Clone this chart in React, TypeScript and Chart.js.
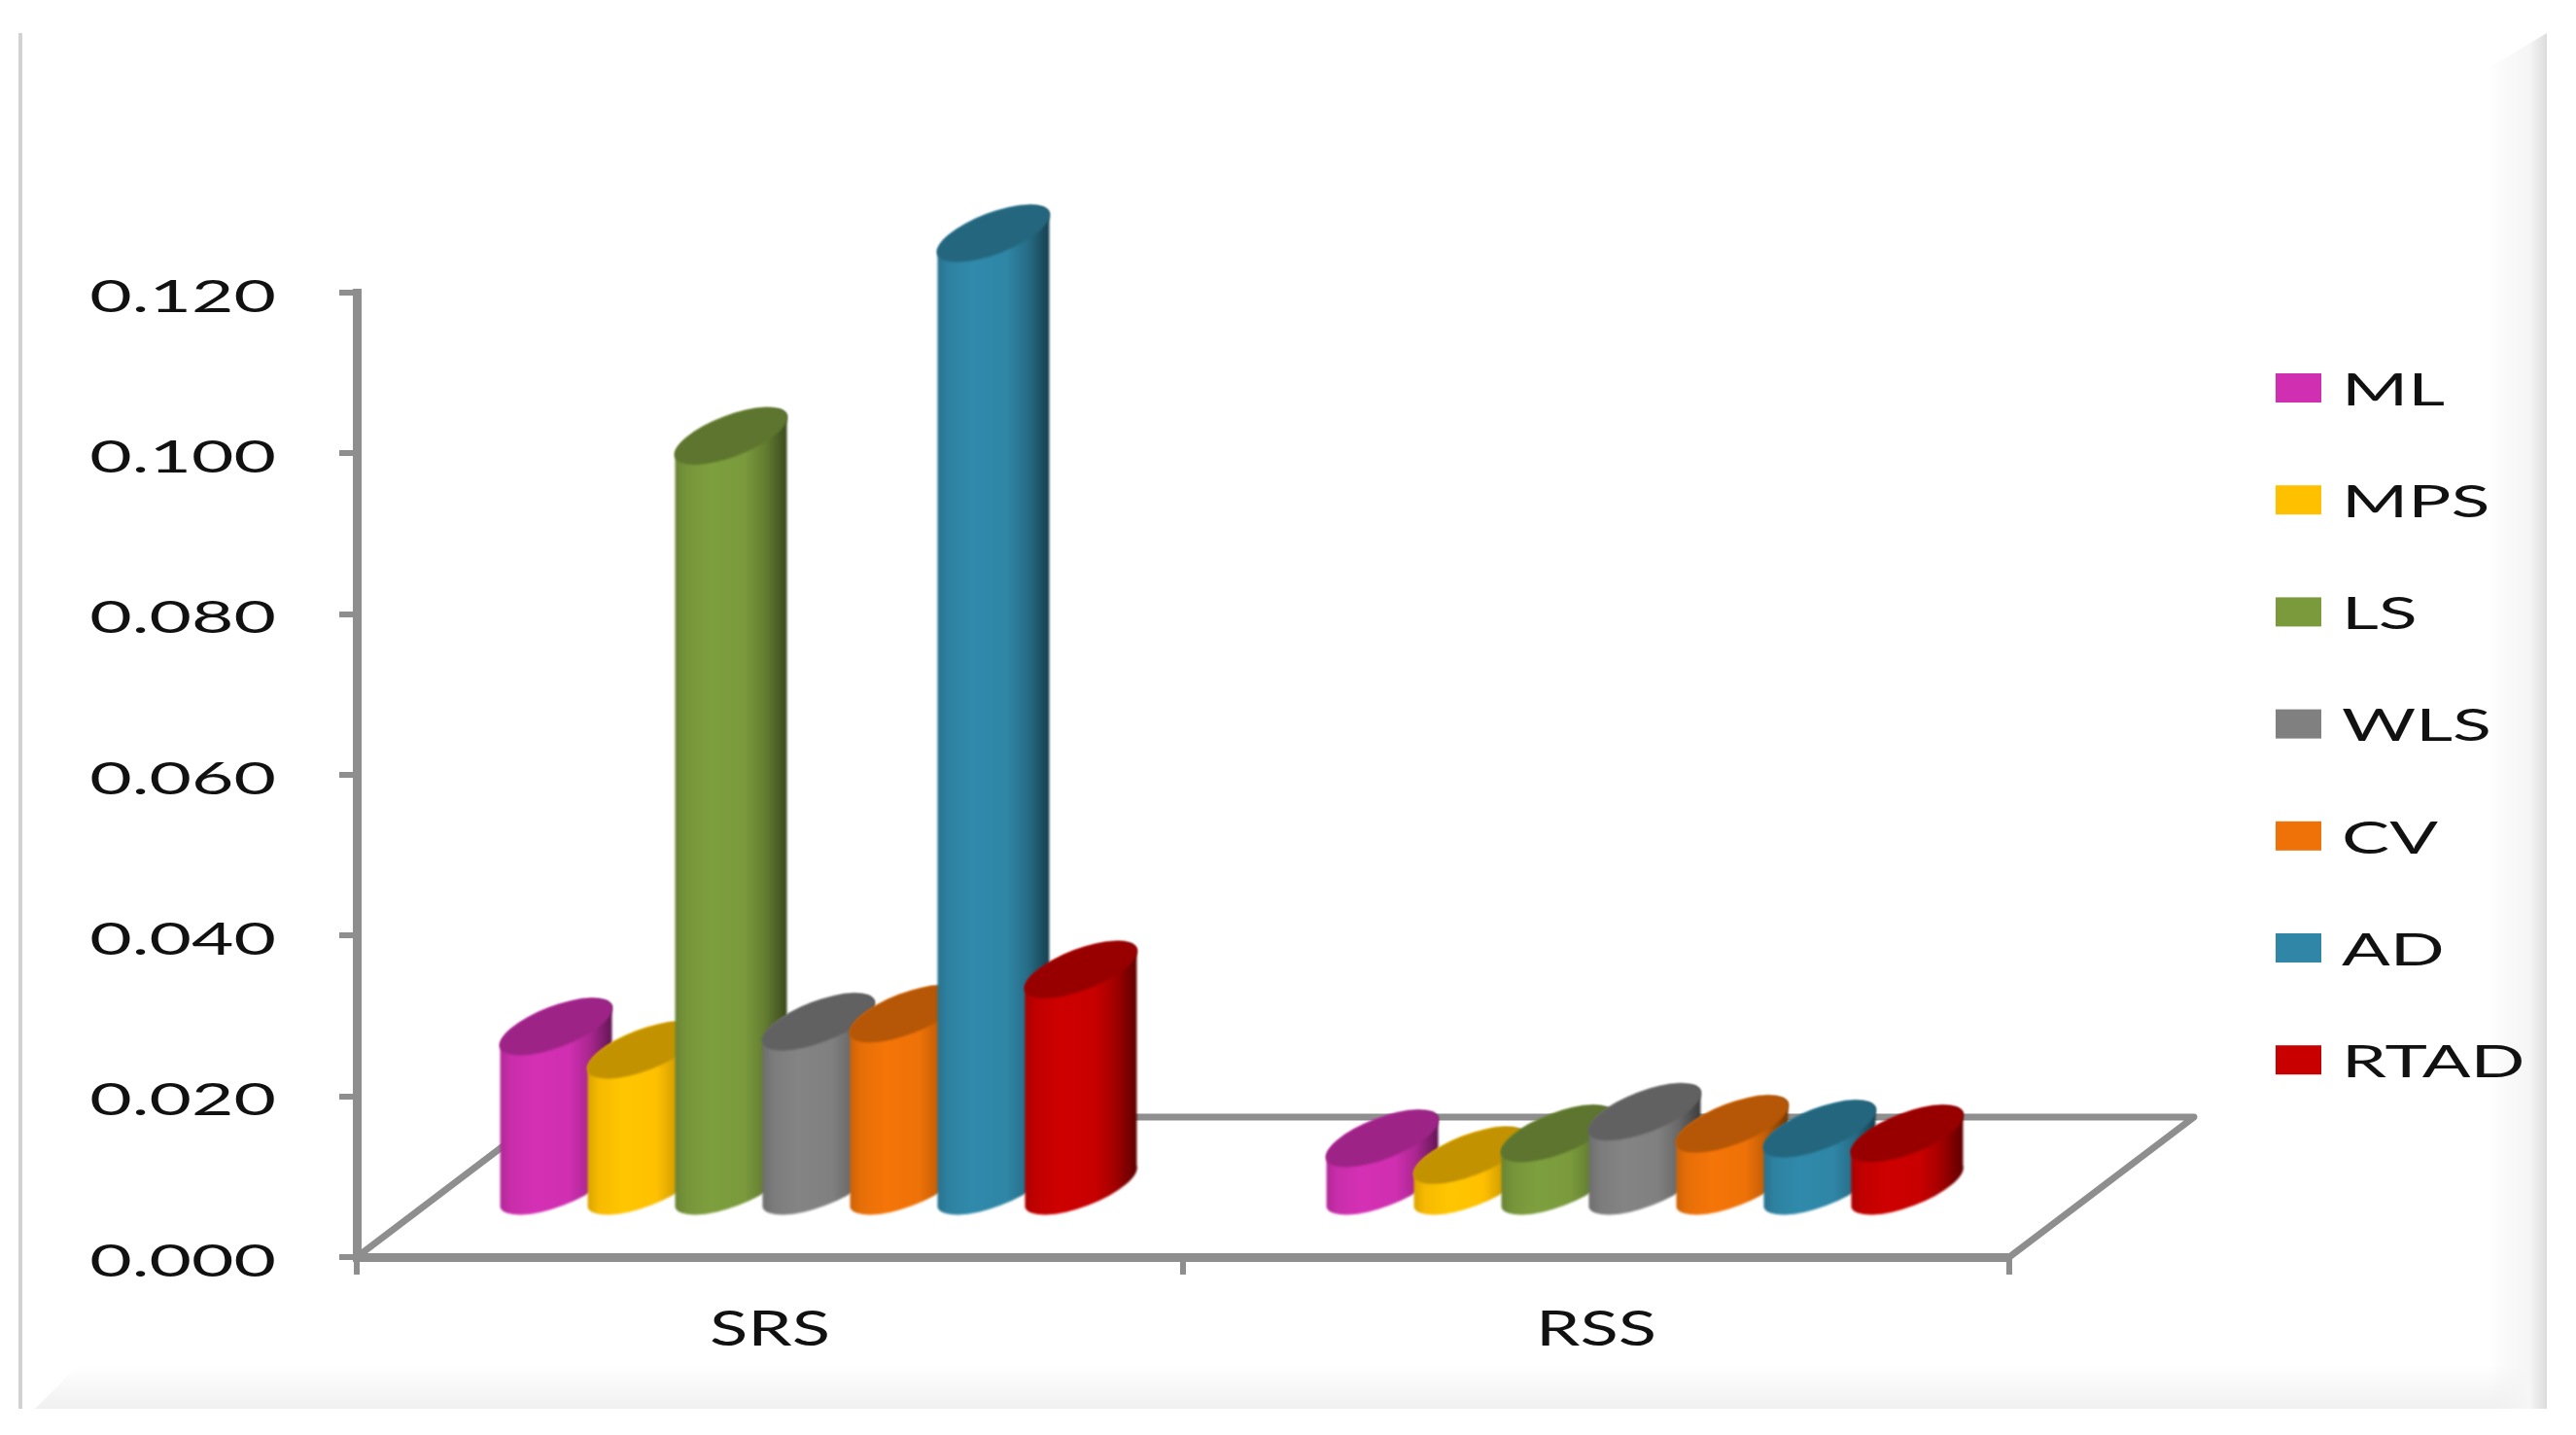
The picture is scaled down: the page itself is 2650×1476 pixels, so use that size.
import React, { useEffect, useRef } from "react";
import { Chart, registerables, BarController, BarElement } from "chart.js";

const categories = ["SRS", "RSS"];
const yMax = 0.12;
const yStep = 0.02;
const seriesNames = ["ML", "MPS", "LS", "WLS", "CV", "AD", "RTAD"];
const seriesColors = ["#cf2fb0", "#ffc000", "#7a9a3c", "#808080", "#ee7208", "#2f86a6", "#c80000"];
const mlValues = [0.0202, 0.0063];
const mpsValues = [0.0173, 0.0042];
const lsValues = [0.0937, 0.0069];
const wlsValues = [0.0208, 0.0096];
const cvValues = [0.0218, 0.0081];
const adValues = [0.1189, 0.0075];
const rtadValues = [0.0273, 0.0069];
const seriesValues = [mlValues, mpsValues, lsValues, wlsValues, cvValues, adValues, rtadValues];

const GREY = "#8e8e8e";
const INK = "#111111";
const FONT = "Lato";

function shade(hex: string, k: number) {
  const n = parseInt(hex.slice(1), 16);
  const c = [(n >> 16) & 255, (n >> 8) & 255, n & 255].map((v) => Math.round(v * k));
  return `rgb(${c[0]},${c[1]},${c[2]})`;
}

function stretchedText(ctx: any, text: string, x: number, y: number, sx: number, size: number, align: string) {
  ctx.save();
  ctx.translate(x, y);
  ctx.scale(sx, 1);
  ctx.font = `${size}px ${FONT}`;
  ctx.fillStyle = INK;
  ctx.textAlign = align;
  ctx.textBaseline = "middle";
  ctx.fillText(text, 0, 0);
  ctx.restore();
}

// Cylinder in the look of a 3-D office chart: it stands on the floor behind the axis front edge.
class CylinderElement extends BarElement {
  static id = "cylinder";
  draw(ctx: any) {
    const { x, y, base, width } = (this as any).getProps(["x", "y", "base", "width"]);
    const color = (this as any).options.backgroundColor as string;
    const rise = width * 0.38;
    const a = Math.hypot(width, rise) / 2;
    const b = 21;
    const theta = -Math.atan2(rise, width);
    const cx = x + 50;
    const floorLift = 48;
    const baseY = base - floorLift - rise / 2;
    const topY = y - floorLift - rise / 2;
    const left = cx - width / 2;
    const grad = ctx.createLinearGradient(left, 0, left + width, 0);
    grad.addColorStop(0, shade(color, 0.86));
    grad.addColorStop(0.1, shade(color, 0.97));
    grad.addColorStop(0.32, shade(color, 1.03));
    grad.addColorStop(0.62, color);
    grad.addColorStop(0.8, shade(color, 0.82));
    grad.addColorStop(1, shade(color, 0.48));
    ctx.save();
    ctx.filter = "blur(1.2px)";
    ctx.beginPath();
    ctx.ellipse(cx, topY, a, b, theta, Math.PI, 2 * Math.PI);
    ctx.ellipse(cx, baseY, a, b, theta, 0, Math.PI);
    ctx.closePath();
    ctx.fillStyle = grad;
    ctx.fill();
    ctx.beginPath();
    ctx.ellipse(cx, topY, a, b, theta, 0, 2 * Math.PI);
    ctx.fillStyle = shade(color, 0.76);
    ctx.fill();
    ctx.restore();
  }
}

class CylinderController extends BarController {
  static id = "cylinder";
  static defaults = { dataElementType: "cylinder" };
}

Chart.register(...registerables, CylinderElement as any, CylinderController as any);

const framePlugin = {
  id: "frame",
  beforeDraw(chart: any) {
    const { ctx, width } = chart;
    ctx.save();
    ctx.fillStyle = "#ffffff";
    ctx.fillRect(0, 0, width, chart.height);
    // bottom soft band
    let g = ctx.createLinearGradient(0, 1405, 0, 1449);
    g.addColorStop(0, "rgba(240,240,240,0)");
    g.addColorStop(1, "#f0f0f0");
    ctx.fillStyle = g;
    ctx.beginPath();
    ctx.moveTo(36, 1449);
    ctx.lineTo(80, 1405);
    ctx.lineTo(2620, 1405);
    ctx.lineTo(2620, 1449);
    ctx.closePath();
    ctx.fill();
    // right soft band
    g = ctx.createLinearGradient(2560, 0, 2620, 0);
    g.addColorStop(0, "rgba(240,240,240,0)");
    g.addColorStop(0.7, "#f6f6f6");
    g.addColorStop(1, "#dcdcdc");
    ctx.fillStyle = g;
    ctx.beginPath();
    ctx.moveTo(2620, 34);
    ctx.lineTo(2560, 70);
    ctx.lineTo(2560, 1449);
    ctx.lineTo(2620, 1449);
    ctx.closePath();
    ctx.fill();
    // left hairline
    ctx.fillStyle = "#d2d2d2";
    ctx.fillRect(19, 34, 4, 1415);
    ctx.restore();

    // swap the scale labels and legend painting for horizontally stretched text
    const y = chart.scales.y;
    const xs = chart.scales.x;
    y.drawLabels = function () {
      this.ticks.forEach((t: any, i: number) => {
        stretchedText(this.ctx, t.label, 284, this.getPixelForTick(i) + 5, 1.63, 46, "right");
      });
    };
    xs.drawLabels = function () {
      this.ticks.forEach((t: any, i: number) => {
        stretchedText(this.ctx, t.label, this.getPixelForTick(i), 1368, 1.45, 50, "center");
      });
    };
    chart.legend.draw = function () {
      this.legendItems.forEach((it: any, i: number) => {
        const cy = 399 + i * 115.2;
        this.ctx.fillStyle = it.fillStyle;
        this.ctx.fillRect(2341, cy - 15, 47, 30);
        stretchedText(this.ctx, it.text, 2409, cy + 3, 1.6, 46, "left");
      });
    };
  },
  beforeDatasetsDraw(chart: any) {
    const { ctx, chartArea } = chart;
    const { left, right, bottom } = chartArea;
    const dx = 190;
    const dy = 144;
    ctx.save();
    ctx.strokeStyle = GREY;
    ctx.lineJoin = "round";
    ctx.lineWidth = 7;
    ctx.beginPath();
    ctx.moveTo(left, bottom);
    ctx.lineTo(left + dx, bottom - dy);
    ctx.lineTo(right + dx, bottom - dy);
    ctx.lineTo(right, bottom);
    ctx.stroke();
    ctx.restore();
    // later series sit in front of earlier ones
    chart.getSortedVisibleDatasetMetas().forEach((m: any) => m.controller.draw());
    return false;
  },
};

export default function App() {
  const ref = useRef<HTMLCanvasElement>(null);
  useEffect(() => {
    const chart = new Chart(ref.current as any, {
      type: "cylinder" as any,
      data: {
        labels: categories,
        datasets: seriesNames.map((name, i) => ({
          label: name,
          data: seriesValues[i],
          backgroundColor: seriesColors[i],
          categoryPercentage: 0.741,
          barPercentage: 1.278,
        })),
      },
      options: {
        responsive: false,
        animation: false,
        layout: { padding: { top: 301, right: 583, left: 0, bottom: 0 } },
        plugins: {
          legend: { display: true, position: "chartArea" as any },
          tooltip: { enabled: false },
          title: { display: false },
        },
        scales: {
          x: {
            type: "category",
            afterFit(s: any) {
              s.height = 183;
            },
            grid: { display: true, drawOnChartArea: false, drawTicks: true, tickLength: 18, color: GREY, lineWidth: 6 },
            border: { display: true, color: GREY, width: 9 },
            ticks: { font: { family: FONT, size: 50 }, color: INK },
          },
          y: {
            type: "linear",
            min: 0,
            max: yMax,
            afterFit(s: any) {
              s.width = 367;
            },
            grid: { display: true, drawOnChartArea: false, drawTicks: true, tickLength: 18, color: GREY, lineWidth: 6 },
            border: { display: true, color: GREY, width: 9 },
            ticks: {
              stepSize: yStep,
              callback: (v: any) => Number(v).toFixed(3),
              font: { family: FONT, size: 46 },
              color: INK,
            },
          },
        },
      },
      plugins: [framePlugin as any],
    });
    return () => chart.destroy();
  }, []);
  return (
    <canvas
      ref={ref}
      width={2650}
      height={1476}
      style={{ position: "absolute", left: 0, top: 0, display: "block" }}
    />
  );
}
